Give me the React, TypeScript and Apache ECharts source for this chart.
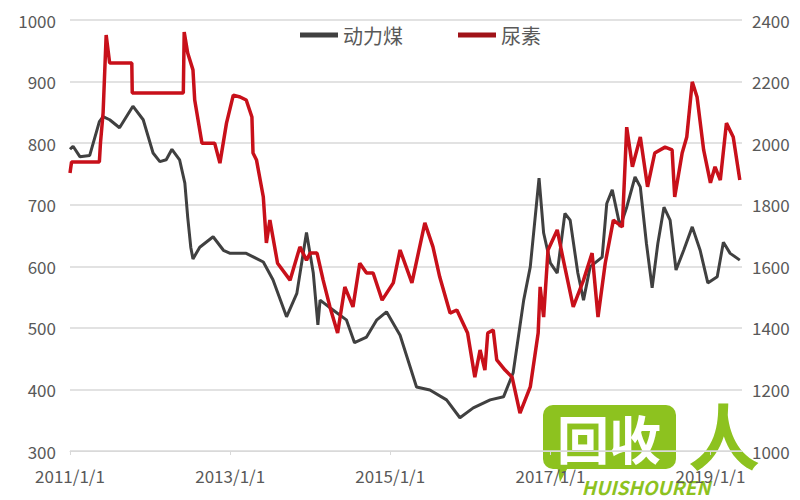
import React, { useEffect, useRef } from "react";
import * as echarts from "echarts";

// 动力煤 (left axis)
const coalDates = [
  "2011-01-01","2011-01-15","2011-02-15","2011-04-01","2011-05-15","2011-06-01","2011-07-01","2011-08-15",
  "2011-10-15","2011-12-01","2012-01-15","2012-02-15","2012-03-15","2012-04-10","2012-05-15","2012-06-08",
  "2012-06-21","2012-07-05","2012-07-15","2012-08-15","2012-10-15","2012-12-01","2013-01-01","2013-03-15",
  "2013-06-01","2013-07-15","2013-09-15","2013-11-01","2013-12-15","2014-01-15","2014-02-05","2014-02-15",
  "2014-04-15","2014-06-15","2014-07-22","2014-09-15","2014-11-01","2014-12-15","2015-02-15","2015-05-01",
  "2015-07-01","2015-09-15","2015-11-15","2016-01-15","2016-04-01","2016-06-01","2016-07-15","2016-09-01",
  "2016-10-01","2016-11-10","2016-12-01","2017-01-01","2017-02-01","2017-03-08","2017-04-01","2017-05-06",
  "2017-06-01","2017-07-01","2017-08-25","2017-09-15","2017-10-10","2017-11-15","2017-12-15","2018-01-22",
  "2018-02-15","2018-03-15","2018-04-10","2018-05-06","2018-06-03","2018-07-01","2018-07-28","2018-09-01",
  "2018-10-10","2018-11-15","2018-12-20","2019-02-01","2019-03-01","2019-04-01","2019-05-15"
];
const coalValues = [
  790,795,778,780,835,843,838,825,
  860,838,784,770,773,790,773,735,
  680,631,612,631,648,626,621,621,
  607,578,518,556,655,589,505,545,
  529,513,476,485,513,526,488,404,
  399,383,354,370,383,388,427,545,
  599,743,654,605,589,686,675,589,
  545,599,615,702,724,664,696,745,
  729,637,565,637,696,675,594,626,
  664,626,573,583,639,621,610
];

// 尿素 (right axis)
const ureaDates = [
  "2011-01-01","2011-01-08","2011-05-15","2011-05-20","2011-06-01","2011-06-15","2011-07-01","2011-10-10",
  "2011-10-12","2012-06-01","2012-06-05","2012-06-21","2012-07-15","2012-07-23","2012-08-25","2012-10-22",
  "2012-11-15","2012-12-15","2013-01-15","2013-02-15","2013-03-15","2013-04-10","2013-04-15","2013-05-01",
  "2013-06-01","2013-06-15","2013-07-01","2013-08-05","2013-10-01","2013-11-15","2013-12-15","2014-01-01",
  "2014-02-01","2014-03-01","2014-04-01","2014-05-06","2014-06-08","2014-07-15","2014-08-15","2014-09-15",
  "2014-10-15","2014-11-25","2015-01-15","2015-02-15","2015-04-10","2015-06-08","2015-07-15","2015-08-15",
  "2015-10-01","2015-11-01","2015-12-20","2016-01-22","2016-02-15","2016-03-08","2016-03-21","2016-04-15",
  "2016-05-01","2016-06-08","2016-07-10","2016-08-15","2016-10-01","2016-11-06","2016-11-15","2016-12-01",
  "2016-12-21","2017-02-01","2017-03-01","2017-04-15","2017-06-01","2017-07-10","2017-08-06","2017-09-08",
  "2017-10-15","2017-11-25","2017-12-15","2018-01-10","2018-02-15","2018-03-20","2018-04-22","2018-06-08",
  "2018-07-10","2018-07-22","2018-08-25","2018-09-15","2018-10-10","2018-11-01","2018-12-01","2019-01-01",
  "2019-01-22","2019-02-15","2019-03-15","2019-04-15","2019-05-15"
];
const ureaValues = [
  1903,1939,1939,2000,2098,2351,2260,2260,
  2163,2163,2361,2293,2238,2140,2000,2000,
  1935,2065,2156,2150,2140,2085,1968,1945,
  1825,1676,1750,1610,1555,1663,1620,1643,
  1643,1555,1468,1383,1533,1468,1610,1578,
  1578,1490,1546,1653,1546,1741,1663,1565,
  1448,1458,1383,1240,1328,1263,1383,1393,
  1296,1263,1240,1123,1208,1383,1533,1435,
  1653,1718,1620,1468,1555,1643,1435,1610,
  1750,1728,2052,1923,2020,1858,1968,1987,
  1978,1825,1968,2020,2199,2150,1978,1871,
  1923,1880,2065,2020,1880
];

const seriesNames = ["动力煤", "尿素"];
const xLabelDates = ["2011-01-01", "2013-01-01", "2015-01-01", "2017-01-01", "2019-01-01"];
const xRange = ["2011-01-01", "2019-05-25"];
const leftAxis = { min: 300, max: 1000, interval: 100 };
const rightAxis = { min: 1000, max: 2400, interval: 200 };

const ts = (d: string) => Date.UTC(+d.slice(0, 4), +d.slice(5, 7) - 1, +d.slice(8, 10));

export default function App() {
  const ref = useRef<HTMLDivElement>(null);
  useEffect(() => {
    if (!ref.current) return;
    const chart = echarts.init(ref.current, undefined, { renderer: "svg" });
    const font = "'Noto Sans CJK SC', 'Noto Sans', sans-serif";
    const labelStyle = { color: "#595959", fontSize: 17, fontFamily: font };
    const xTicks = xLabelDates.map(ts);
    chart.setOption({
      animation: false,
      backgroundColor: "#ffffff",
      legend: {
        top: 20,
        left: 295,
        itemGap: 55,
        itemWidth: 38,
        itemHeight: 5,
        icon: "rect",
        textStyle: { color: "#595959", fontSize: 20, fontFamily: font },
        data: seriesNames,
      },
      grid: { left: 70, right: 58, top: 20, bottom: 49 },
      xAxis: {
        type: "value",
        min: ts(xRange[0]),
        max: ts(xRange[1]),
        axisLine: { show: true, lineStyle: { color: "#d9d9d9" } },
        axisTick: { show: true, customValues: xTicks, length: 4, lineStyle: { color: "#d9d9d9" } },
        splitLine: { show: false },
        axisLabel: {
          ...labelStyle,
          margin: 16,
          customValues: xTicks,
          formatter: (v: number) => {
            const d = new Date(v);
            return `${d.getUTCFullYear()}/${d.getUTCMonth() + 1}/${d.getUTCDate()}`;
          },
        },
      },
      yAxis: [
        {
          type: "value",
          ...leftAxis,
          axisLine: { show: false },
          axisTick: { show: false },
          splitLine: { lineStyle: { color: "#d9d9d9", width: 1.5 } },
          axisLabel: { ...labelStyle, margin: 14, formatter: (v: number) => String(v) },
        },
        {
          type: "value",
          ...rightAxis,
          axisLine: { show: false },
          axisTick: { show: false },
          splitLine: { show: false },
          axisLabel: { ...labelStyle, margin: 10, formatter: (v: number) => String(v) },
        },
      ],
      series: [
        {
          name: seriesNames[0],
          type: "line",
          yAxisIndex: 0,
          showSymbol: false,
          color: "#404040",
          lineStyle: { width: 3, color: "#404040" },
          data: coalDates.map((d, i) => [ts(d), coalValues[i]]),
        },
        {
          name: seriesNames[1],
          type: "line",
          yAxisIndex: 1,
          showSymbol: false,
          color: "#a01218",
          lineStyle: { width: 3.5, color: "#c8101a" },
          data: ureaDates.map((d, i) => [ts(d), ureaValues[i]]),
        },
      ],
      graphic: [
        {
          type: "group",
          z: 100,
          children: [
            { type: "rect", shape: { x: 543, y: 405, width: 133, height: 64, r: 10 }, style: { fill: "#8dc21f" } },
            { type: "polygon", shape: { points: [[556, 460], [572, 460], [560, 482]] }, style: { fill: "#8dc21f" } },
            {
              type: "text",
              x: 609,
              y: 437,
              style: {
                text: "回收",
                fill: "#ffffff",
                font: `bold 52px ${font}`,
                align: "center",
                verticalAlign: "middle",
              },
            },
            {
              type: "text",
              x: 724,
              y: 432,
              style: {
                text: "人",
                fill: "#8dc21f",
                font: `bold 72px ${font}`,
                align: "center",
                verticalAlign: "middle",
              },
            },
            {
              type: "text",
              x: 646,
              y: 486,
              style: {
                text: "HUISHOUREN",
                fill: "#8dc21f",
                font: `italic bold 19px ${font}`,
                align: "center",
                verticalAlign: "middle",
              },
            },
          ],
        },
      ],
    });
    return () => chart.dispose();
  }, []);
  return <div ref={ref} style={{ width: 800, height: 500, position: "absolute", left: 0, top: 0 }} />;
}
